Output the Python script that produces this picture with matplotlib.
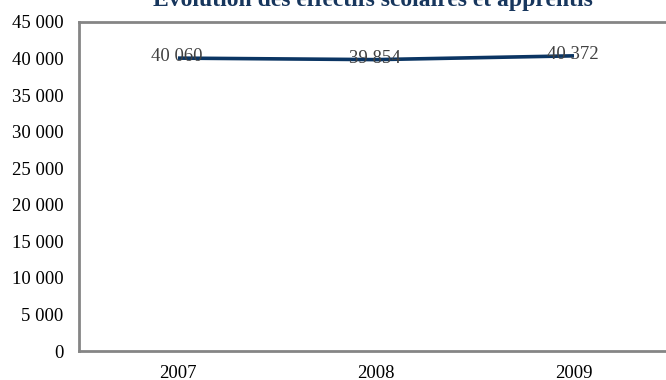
import matplotlib.pyplot as plt

years = ['2007', '2008', '2009']
effectifs = [40060, 39854, 40372]
yticks = [0, 5000, 10000, 15000, 20000, 25000, 30000, 35000, 40000, 45000]

plt.rcParams['font.family'] = ['Liberation Serif', 'DejaVu Serif']

W, H = 666, 380
fig = plt.figure(figsize=(W / 100, H / 100), dpi=100)
# plot area runs past the right edge of the picture, as in the reference
ax = fig.add_axes([79 / W, 1 - 351 / H, 594 / W, 329 / H])

x = list(range(len(years)))
ax.plot(x, effectifs, color='#0b3563', lw=2.6, solid_capstyle='butt')

fmt = lambda v: '{:,}'.format(v).replace(',', ' ')
for xi, v in zip(x, effectifs):
    ax.annotate(fmt(v), (xi, v), xytext=(-1, 1), textcoords='offset points',
                ha='center', va='center', fontsize=13.5, color='#404040')

ax.set_xlim(-0.5, len(years) - 0.5)
ax.set_ylim(0, 45000)
ax.set_xticks(x)
ax.set_xticklabels(years)
ax.set_yticks(yticks)
ax.set_yticklabels([fmt(t) for t in yticks])
ax.tick_params(length=0, labelsize=13.5, colors='black')
ax.tick_params(axis='x', pad=10)
ax.tick_params(axis='y', pad=11)

for side in ['left', 'bottom', 'top', 'right']:
    ax.spines[side].set_color('#858585')
    ax.spines[side].set_linewidth(2)

fig.text(373 / W, 1 - 6 / H, 'Évolution des effectifs scolaires et apprentis',
         ha='center', va='baseline', fontsize=17, fontweight='bold',
         color='#17365d')

fig.savefig('out.png', dpi=100)
